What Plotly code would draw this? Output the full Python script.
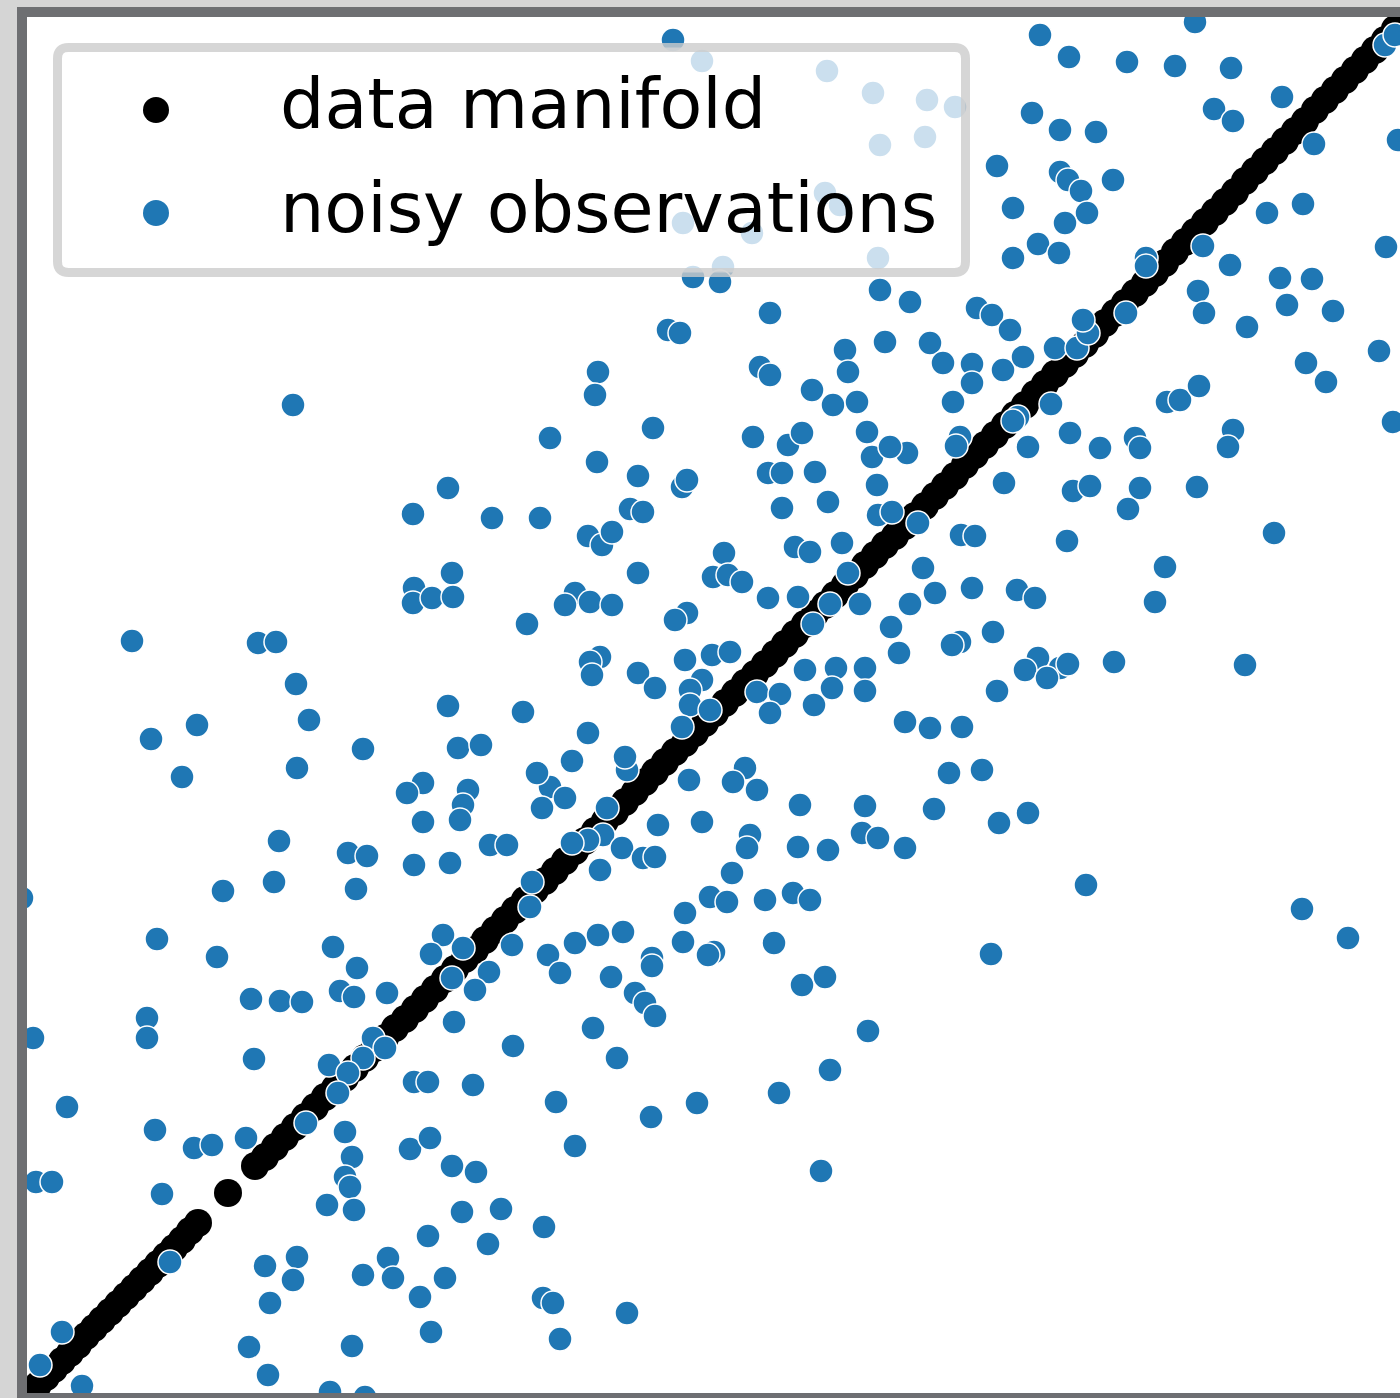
import plotly.graph_objects as go

# ---------------- data (units = screen-pixel scale, y up) -------------
manifold_x = [30, 38, 46, 54, 62, 70, 78, 86, 94, 102, 110, 118, 126, 134, 142, 150, 158, 166,
              174, 182, 190, 198, 228,
              255, 265, 275, 285, 295, 305, 315, 325, 335, 345, 355, 365, 375, 385, 395, 405,
              415, 425, 435, 445, 455, 465, 475, 485, 495, 505, 515, 525, 535, 545, 555, 565,
              575, 585, 595, 605, 615, 625, 635, 645, 655, 665, 675, 685, 695, 705, 715, 725,
              735, 745, 755, 765, 775, 785, 795, 805, 815, 825, 835, 845, 855, 865, 875, 885,
              895, 905, 915,
              925, 935, 945, 955, 965, 975, 985, 995, 1005, 1015, 1025, 1035, 1045, 1055, 1065,
              1075, 1085, 1095, 1105, 1115, 1125, 1135, 1145, 1155, 1165, 1175, 1185, 1195,
              1205, 1215, 1225, 1235, 1245, 1255, 1265, 1275, 1285, 1295, 1305, 1315, 1325,
              1335, 1345, 1355, 1365, 1375, 1385, 1395, 1405]
manifold_y = [7, 15, 23, 31, 39, 47, 55, 64, 72, 80, 88, 96, 104, 112, 120, 128, 136, 144,
              152, 160, 169, 177, 207,
              234, 243, 253, 263, 273, 283, 293, 303, 312, 322, 332, 342, 352, 362, 372, 381,
              391, 401, 411, 421, 431, 441, 450, 460, 470, 480, 490, 500, 510, 519, 529, 539,
              549, 559, 569, 579, 588, 598, 608, 618, 628, 638, 648, 657, 667, 677, 687, 697,
              707, 717, 726, 736, 746, 756, 766, 776, 786, 795, 805, 815, 825, 835, 845, 855,
              864, 874, 884,
              894, 904, 914, 924, 935, 945, 955, 965, 975, 985, 995, 1006, 1016, 1026, 1036,
              1046, 1056, 1066, 1077, 1087, 1097, 1107, 1117, 1127, 1137, 1148, 1158, 1168,
              1178, 1188, 1198, 1208, 1219, 1229, 1239, 1249, 1259, 1269, 1279, 1290, 1300,
              1310, 1320, 1330, 1340, 1350, 1360, 1371, 1381]

noisy_x = [673, 702, 827, 873, 927, 955, 880, 925, 825, 840, 683, 752, 878, 723, 693, 720, 880, 910,
           1040, 1195, 1069, 1127, 1175, 1231, 1385, 1395, 1282, 1214, 1233, 1032, 1060, 1096,
           1314, 1398, 997, 1060, 1068, 1081, 1087, 1113, 1013, 1065, 1267, 1303, 1038, 1059,
           1013, 1386, 1146, 1146, 1203, 1230, 1280, 1312, 1198,
           1204, 1287, 1333, 1247, 977, 992, 1010, 930, 943, 972, 972, 1003, 1023, 1055, 1077,
           1088, 1083, 1126, 1379, 1306, 1326, 953, 1018, 1013, 1051, 1070, 1100, 1028, 1167,
           1180, 1199, 1135, 1140, 1233, 1228, 1393, 960, 956, 770, 668, 680, 598, 595, 845,
           848, 885, 760, 770, 812, 833, 857, 550, 653, 753, 788, 802, 867, 872, 907, 890, 597,
           293,
           638, 682, 687, 768, 782, 815, 877, 448, 413, 492, 540, 630, 643, 588, 602, 612, 782,
           828, 878, 892, 918, 1004, 1073, 1090, 1140, 1128, 1197, 1274, 961, 975, 1067, 1165,
           1155, 923, 935, 972, 1017, 1035, 638, 724, 713, 728, 742, 795, 810, 842, 848, 768,
           798, 830, 860, 910, 575, 565, 590, 612, 452, 414, 413, 432, 453,
           813, 891, 527, 687, 675, 132, 258, 276, 993, 960, 952, 899, 600, 590, 592, 638, 655,
           685, 712, 730, 702, 690, 690, 682, 710, 757, 780, 770, 805, 836, 832, 814, 865, 865,
           1038, 1025, 1060, 1047, 1068, 1114, 1245, 997, 296, 448, 523, 197, 309, 905, 930,
           962, 588, 151, 363, 458, 481,
           182, 297, 423, 407, 423, 468, 463, 460, 572, 627, 625, 689, 550, 537, 565, 542, 607,
           745, 757, 733, 949, 982, 800, 865, 934, 999, 1028, 702, 658, 603, 588, 572, 622, 643,
           655, 600, 490, 507, 279, 348, 367, 414, 450, 750, 747, 798, 828, 862, 878, 905, 732,
           532, 223, 274, 356, 22, 1086, 710, 727, 765, 793, 810,
           530, 685, 1302, 1348, 991, 157, 217, 333, 357, 340, 354, 387, 251, 280, 302, 443, 431,
           463, 452, 489, 475, 512, 548, 560, 575, 598, 623, 611, 652, 652, 683, 714, 708, 774,
           635, 645, 655, 802, 825, 147, 147, 33, 454, 593, 513, 617, 868, 373, 385,
           363, 329, 348, 338, 254, 414, 428, 473, 830, 556, 697, 779, 67, 306, 155, 194, 212,
           246, 345, 352, 345, 350, 410, 430, 651, 575, 452, 476, 821, 36, 52, 162,
           327, 354, 462, 501, 544, 428, 488, 170, 265, 297, 293, 270, 363, 388, 393, 420, 445,
           543, 553, 627, 62, 40, 249, 352, 431, 560, 82, 268, 330, 365]
noisy_y = [1360, 1339, 1329, 1307, 1300, 1293, 1255, 1263, 1207, 1195, 1177, 1167, 1142, 1133,
           1123, 1118, 1110, 1098,
           1365, 1378, 1343, 1338, 1334, 1332, 1355, 1365, 1303, 1291, 1279, 1287, 1270, 1268,
           1256, 1260, 1234, 1228, 1220, 1209, 1187, 1220, 1192, 1177, 1187, 1196, 1156, 1147,
           1142, 1153, 1142, 1134, 1154, 1135, 1122, 1121, 1109,
           1087, 1095, 1089, 1073, 1092, 1085, 1070, 1057, 1037, 1036, 1017, 1030, 1043, 1052,
           1052, 1067, 1080, 1087, 1049, 1037, 1018, 998, 983, 979, 996, 967, 952, 953, 998,
           1000, 1014, 962, 952, 970, 953, 978, 963, 954, 1087, 1070, 1067, 1028, 1005, 1050,
           1028, 1058, 1033, 1025, 1010, 995, 998, 962, 972, 963, 955, 967, 968, 943, 947, 953,
           938, 995,
           924, 913, 920, 927, 927, 928, 915, 912, 886, 882, 882, 891, 888, 864, 855, 868, 892,
           898, 885, 888, 877, 917, 909, 914, 912, 891, 913, 867, 865, 864, 859, 833, 798, 832,
           807, 812, 810, 802, 827, 847, 823, 825, 818, 853, 848, 857, 827, 802, 803, 796, 796,
           796, 807, 795, 798, 795, 827, 812, 797, 802, 803,
           776, 773, 776, 787, 780, 759, 757, 758, 768, 758, 755, 747, 743, 738, 725, 727, 712,
           740, 745, 748, 720, 710, 695, 673, 690, 708, 706, 687, 730, 732, 712, 695, 732, 709,
           742, 730, 732, 722, 736, 738, 735, 709, 716, 694, 688, 675, 680, 678, 672, 673, 667,
           661, 651, 652, 655,
           623, 632, 617, 607, 578, 610, 595, 580, 639, 630, 643, 620, 613, 627, 602, 592, 592,
           632, 610, 618, 627, 630, 595, 594, 591, 577, 587, 578, 575, 565, 560, 557, 552, 542,
           543, 530, 555, 555, 559, 547, 544, 535, 537, 565, 552, 553, 550, 567, 562, 552, 527,
           518, 509, 518, 511, 502, 515, 503, 498, 500, 507, 500,
           493, 487, 491, 462, 446, 461, 443, 453, 432, 409, 403, 407, 401, 399, 398, 465, 446,
           452, 422, 428, 410, 455, 445, 427, 457, 465, 468, 423, 442, 434, 458, 448, 445, 457,
           407, 397, 384, 415, 423, 382, 362, 362, 378, 372, 354, 342, 369, 362, 352,
           342, 335, 327, 307, 341, 318, 318, 315, 330, 298, 297, 307, 293, 277, 270, 252, 255,
           262, 268, 243, 223, 213, 251, 262, 283, 254, 234, 228, 229, 218, 218, 206,
           195, 190, 188, 191, 173, 164, 156, 138, 134, 143, 120, 97, 125, 142, 122, 103, 122,
           102, 97, 87, 68, 35, 53, 54, 68, 61, 14, 25, 8, 3]

legend_labels = ["data manifold", "noisy observations"]
manifold_color = "#000000"
noisy_color = "#1f77b4"

# ---------------- layout helpers (figure pixels -> paper fractions) ----------------
W, H = 1400, 1398
L, R, T, B = 27, 0, 17, 5
PW, PH = W - L - R, H - T - B


def fx(px):
    return (px - L) / PW


def fy(py):
    return (H - B - py) / PH


def rounded_rect(x0, y0, x1, y1, r):
    pts = [
        ("M", [(x0 + r, y0)]),
        ("L", [(x1 - r, y0)]),
        ("Q", [(x1, y0), (x1, y0 + r)]),
        ("L", [(x1, y1 - r)]),
        ("Q", [(x1, y1), (x1 - r, y1)]),
        ("L", [(x0 + r, y1)]),
        ("Q", [(x0, y1), (x0, y1 - r)]),
        ("L", [(x0, y0 + r)]),
        ("Q", [(x0, y0), (x0 + r, y0)]),
    ]
    s = ""
    for cmd, ps in pts:
        s += cmd + " " + " ".join(f"{fx(a):.6f},{fy(b):.6f}" for a, b in ps) + " "
    return s + "Z"


fig = go.Figure()
fig.add_trace(go.Scatter(
    x=manifold_x, y=manifold_y, mode="markers", name=legend_labels[0],
    marker=dict(size=28, color=manifold_color, line=dict(width=0)),
    showlegend=False, hoverinfo="skip"))
fig.add_trace(go.Scatter(
    x=noisy_x, y=noisy_y, mode="markers", name=legend_labels[1],
    marker=dict(size=24, color=noisy_color, line=dict(width=1.5, color="white")),
    showlegend=False, hoverinfo="skip"))

shapes = []
# outer light-grey margin strips (dark grey frame is the paper background)
shapes.append(dict(type="rect", xref="paper", yref="paper", x0=fx(0), x1=fx(17), y0=fy(0), y1=fy(H),
                   fillcolor="#d5d5d5", line=dict(width=0), layer="above"))
shapes.append(dict(type="rect", xref="paper", yref="paper", x0=fx(0), x1=fx(W), y0=fy(0), y1=fy(7),
                   fillcolor="#d5d5d5", line=dict(width=0), layer="above"))
# legend box
shapes.append(dict(type="path", xref="paper", yref="paper",
                   path=rounded_rect(57.5, 47.5, 965.5, 272.5, 11),
                   fillcolor="rgba(255,255,255,0.77)",
                   line=dict(color="rgba(204,204,204,0.8)", width=9), layer="above"))
# legend glyphs
for (cx, cy), col in zip([(156, 110), (156, 213)], [manifold_color, noisy_color]):
    r = 13
    shapes.append(dict(type="circle", xref="paper", yref="paper",
                       x0=fx(cx - r), x1=fx(cx + r), y0=fy(cy + r), y1=fy(cy - r),
                       fillcolor=col, line=dict(width=0), layer="above"))

annotations = []
for label, cy in zip(legend_labels, [104.0, 208.0]):
    annotations.append(dict(text=label, x=fx(278), y=fy(cy), xref="paper", yref="paper",
                            xanchor="left", yanchor="middle", showarrow=False,
                            font=dict(family="DejaVu Sans", size=70, color="black")))

fig.update_layout(
    width=W, height=H,
    margin=dict(l=L, r=R, t=T, b=B, pad=0),
    paper_bgcolor="#6e6f72", plot_bgcolor="white",
    shapes=shapes, annotations=annotations, showlegend=False,
    xaxis=dict(range=[27, 1400], showgrid=False, zeroline=False, showticklabels=False,
               ticks="", showline=False, fixedrange=True),
    yaxis=dict(range=[7, 1383], showgrid=False, zeroline=False, showticklabels=False,
               ticks="", showline=False, fixedrange=True),
)

fig.write_html("out.html")
